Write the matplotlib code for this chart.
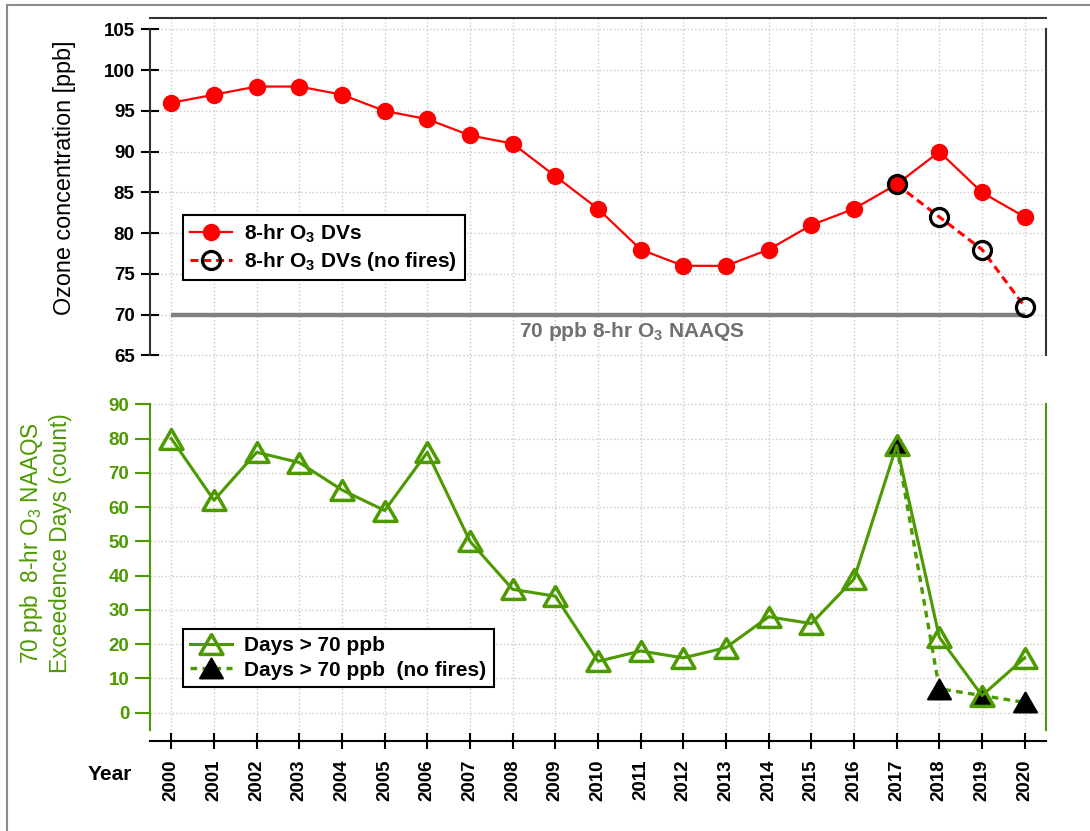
import matplotlib
matplotlib.use('Agg')
import matplotlib.pyplot as plt
from matplotlib.path import Path
from matplotlib.lines import Line2D

# Data
years = [2000, 2001, 2002, 2003, 2004, 2005, 2006, 2007, 2008, 2009, 2010,
         2011, 2012, 2013, 2014, 2015, 2016, 2017, 2018, 2019, 2020]
dvs = [96, 97, 98, 98, 97, 95, 94, 92, 91, 87, 83,
       78, 76, 76, 78, 81, 83, 86, 90, 85, 82]
noFireYears = [2017, 2018, 2019, 2020]
dvsNoFire = [86, 82, 78, 71]
days = [80, 62, 76, 73, 65, 59, 76, 50, 36, 34, 15,
        18, 16, 19, 28, 26, 39, 78, 22, 5, 16]
daysNoFire = [78, 7, 5, 3]
naaqs = 70

# Style
plt.rcParams['font.family'] = ['Liberation Sans', 'DejaVu Sans']
plt.rcParams['mathtext.fontset'] = 'custom'
plt.rcParams['mathtext.rm'] = 'Liberation Sans'
plt.rcParams['mathtext.bf'] = 'Liberation Sans:bold'
green = '#4c9900'
dark = '#333333'
tri = Path([(0, 0.5), (-0.577, -0.5), (0.577, -0.5), (0, 0.5)], closed=True)

W, H = 1090, 831
fig = plt.figure(figsize=(W / 100, H / 100), dpi=100)
ax1 = fig.add_axes([150 / W, 1 - 380 / H, 896 / W, 362 / H])
ax2 = fig.add_axes([150 / W, 1 - 741 / H, 896 / W, 361 / H])

# Frame around the figure
fig.add_artist(Line2D([7 / W, 7 / W], [0, 1 - 5 / H], color='#8c8c8c', lw=1.5))
fig.add_artist(Line2D([7 / W, 1], [1 - 5 / H, 1 - 5 / H], color='#8c8c8c', lw=1.5))

for ax in (ax1, ax2):
    ax.set_xlim(1999.5, 2020.5)
    ax.set_xticks(years)
    ax.set_axisbelow(True)
    ax.grid(True, color='#c8c8c8', linestyle=':', linewidth=1)

# Top panel: design values
ax1.plot([years[0], years[-1]], [naaqs, naaqs], color='#808080', lw=3.2, solid_capstyle='butt')
ax1.text(2010.8, 68.0, '70 ppb 8-hr O$_\\mathbf{3}$ NAAQS', color='#707070', fontsize=15,
         fontweight='bold', ha='center', va='center')
l1, = ax1.plot(years, dvs, color='red', lw=1.6, marker='o', ms=11.5, mec='red',
               label='8-hr O$_\\mathbf{3}$ DVs')
l2, = ax1.plot(noFireYears, dvsNoFire, color='red', lw=2.2, dashes=(2.6, 1.6), marker='o',
               ms=13, mfc='none', mec='black', mew=2.3, label='8-hr O$_\\mathbf{3}$ DVs (no fires)')
ax1.set_ylim(61.99, 106.41)
ax1.set_yticks([65, 70, 75, 80, 85, 90, 95, 100, 105])
ax1.tick_params(axis='x', length=0, labelbottom=False)
ax1.tick_params(axis='y', direction='inout', length=13, width=1.5, pad=4.5, colors='black',
                labelsize=13.5)
for t in ax1.get_yticklabels():
    t.set_fontweight('bold')
ax1.spines['bottom'].set_visible(False)
for s in ('left', 'right', 'top'):
    ax1.spines[s].set_color(dark)
    ax1.spines[s].set_linewidth(1.5)
ax1.spines['left'].set_bounds(65, 105)
ax1.spines['right'].set_bounds(65, 105)
leg1 = ax1.legend(handles=[l1, l2], loc='upper left', bbox_to_anchor=(0.0368, 0.456),
                  borderaxespad=0, fancybox=False, edgecolor='black', framealpha=1,
                  fontsize=15, labelspacing=0.25, handlelength=2.0, handletextpad=0.6,
                  borderpad=0.35)
leg1.get_frame().set_linewidth(1.5)
for t in leg1.get_texts():
    t.set_fontweight('bold')

# Bottom panel: exceedance days
l3, = ax2.plot(years, days, color=green, lw=2.2, marker=tri, ms=16.5, mfc='none', mec=green,
               mew=2.5, label='Days > 70 ppb', zorder=3)
l4, = ax2.plot(noFireYears, daysNoFire, color=green, lw=2.4, dashes=(2, 1.6), marker=tri,
               ms=16.5, mfc='black', mec='black', mew=1.5, label='Days > 70 ppb  (no fires)',
               zorder=2)
ax2.set_ylim(-8.26, 97.09)
ax2.set_yticks([0, 10, 20, 30, 40, 50, 60, 70, 80, 90])
ax2.tick_params(axis='y', direction='out', length=11, width=1.5, pad=4, colors=green,
                labelsize=13.5)
ax2.tick_params(axis='x', direction='inout', length=12, width=1.5, pad=7, colors='black',
                labelsize=13.5, labelrotation=90)
for t in ax2.get_yticklabels() + ax2.get_xticklabels():
    t.set_fontweight('bold')
ax2.spines['top'].set_visible(False)
for s in ('left', 'right'):
    ax2.spines[s].set_color(green)
    ax2.spines[s].set_linewidth(1.5)
    ax2.spines[s].set_bounds(-5, 90)
ax2.spines['bottom'].set_color('black')
ax2.spines['bottom'].set_linewidth(1.5)
leg2 = ax2.legend(handles=[l3, l4], loc='upper left', bbox_to_anchor=(0.0368, 0.310),
                  borderaxespad=0, fancybox=False, edgecolor='black', framealpha=1,
                  fontsize=15, labelspacing=0.25, handlelength=2.0, handletextpad=0.6,
                  borderpad=0.35)
leg2.get_frame().set_linewidth(1.5)
for t in leg2.get_texts():
    t.set_fontweight('bold')

# Axis titles
fig.text(65 / W, 1 - 178 / H, 'Ozone concentration [ppb]', rotation=90, fontsize=16.8,
         ha='center', va='center')
fig.text(45 / W, 1 - 543 / H, '70 ppb  8-hr O$_3$ NAAQS\nExceedence Days (count)', rotation=90,
         fontsize=16.3, color=green, ha='center', va='center', multialignment='center')
fig.text(110 / W, 1 - 775 / H, 'Year', fontsize=15, fontweight='bold', ha='center', va='center')

fig.savefig('out.png', dpi=100)
